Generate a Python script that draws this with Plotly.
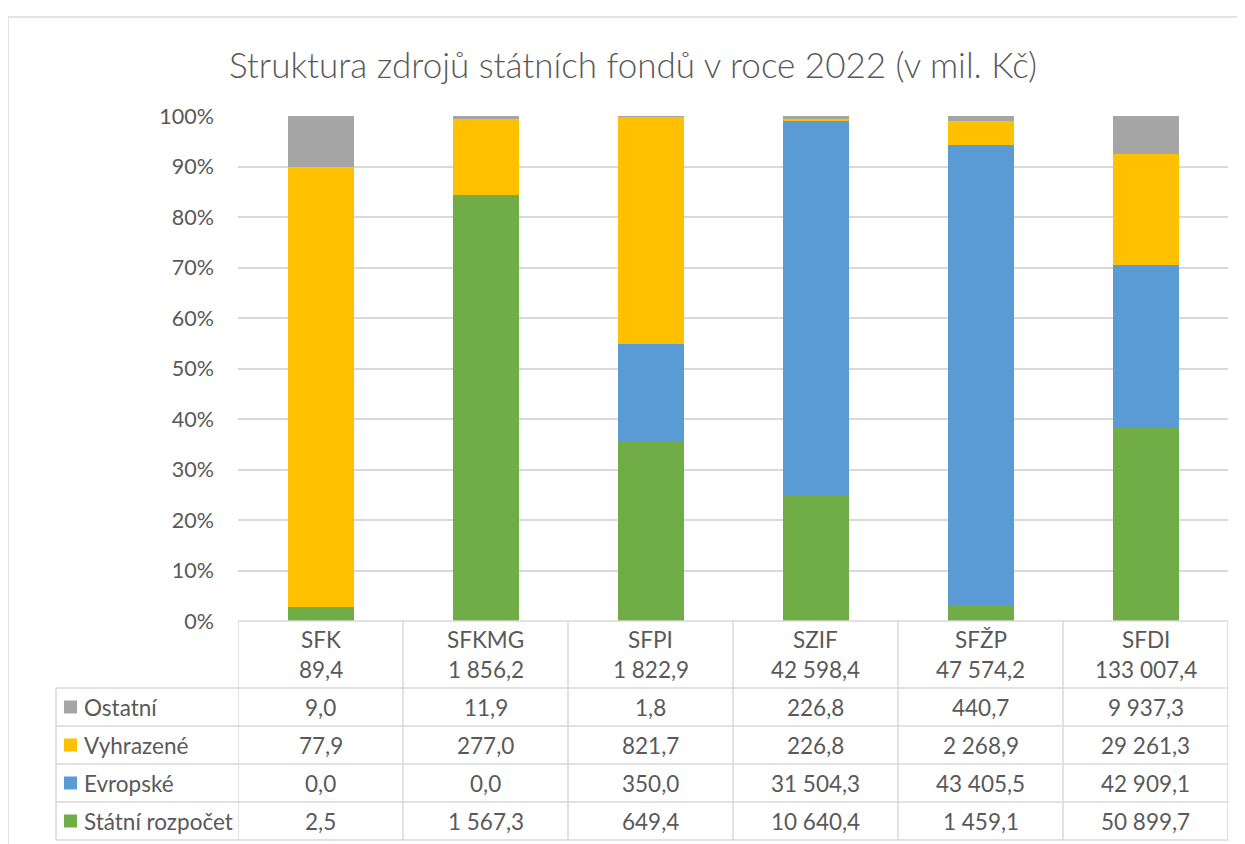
import plotly.graph_objects as go

# ---- data ----
funds = ["SFK", "SFKMG", "SFPI", "SZIF", "SFŽP", "SFDI"]
totals = [89.4, 1856.2, 1822.9, 42598.4, 47574.2, 133007.4]
ostatni = [9.0, 11.9, 1.8, 226.8, 440.7, 9937.3]
vyhrazene = [77.9, 277.0, 821.7, 226.8, 2268.9, 29261.3]
evropske = [0.0, 0.0, 350.0, 31504.3, 43405.5, 42909.1]
statni = [2.5, 1567.3, 649.4, 10640.4, 1459.1, 50899.7]
tick_vals = [0, 10, 20, 30, 40, 50, 60, 70, 80, 90, 100]
tick_text = ["0%", "10%", "20%", "30%", "40%", "50%", "60%", "70%", "80%", "90%", "100%"]

series = [  # bottom to top
    ("Státní rozpočet", statni, "#70AD47"),
    ("Evropské", evropske, "#5B9BD5"),
    ("Vyhrazené", vyhrazene, "#FFC000"),
    ("Ostatní", ostatni, "#A5A5A5"),
]
table_rows = ["Ostatní", "Vyhrazené", "Evropské", "Státní rozpočet"]

# page has an 8px body margin; figure sized so it fits the window exactly
OFF = 8
W, H = 1245 - OFF, 844 - OFF
# plot area in page pixels
PL, PR, PT, PB = 238, 1228, 116, 621
FONT = "Lato, Calibri, Carlito, sans-serif"
TXT = "#595959"
GRID = "#D9D9D9"


def cz(v):
    return f"{v:,.1f}".replace(",", " ").replace(".", ",")


def py(p):  # page pixel y -> paper y
    return (PB - p) / (PB - PT)


def px(p):  # page pixel x -> paper x
    return (p - PL) / (PR - PL)


fig = go.Figure()
for name, vals, col in series:
    fig.add_trace(go.Bar(x=funds, y=vals, name=name, marker_color=col,
                         marker_line_width=0, width=0.4))

shapes = []
annotations = []

# outer chart frame
shapes.append(dict(type="rect", xref="paper", yref="paper",
                   x0=px(8), x1=px(1270), y0=py(870), y1=py(17),
                   line=dict(color=GRID, width=1.5), layer="below"))

# table geometry
row_lines = [688, 726, 764, 802, 840]
shapes.append(dict(type="line", xref="paper", yref="paper",
                   x0=0, x1=1, y0=py(PB), y1=py(PB), line=dict(color=GRID, width=1.5)))
for r in row_lines:
    shapes.append(dict(type="line", xref="paper", yref="paper",
                       x0=px(56), x1=1, y0=py(r), y1=py(r), line=dict(color=GRID, width=1.5)))
for i in range(len(funds) + 1):
    shapes.append(dict(type="line", xref="x", yref="paper",
                       x0=i - 0.5, x1=i - 0.5, y0=py(PB), y1=py(840),
                       line=dict(color=GRID, width=1.5)))
shapes.append(dict(type="line", xref="paper", yref="paper",
                   x0=px(56), x1=px(56), y0=py(688), y1=py(840),
                   line=dict(color=GRID, width=1.5)))

cell_font = dict(size=22.5, color=TXT, family=FONT)

# header cells
for i, f in enumerate(funds):
    annotations.append(dict(x=i, y=py(639), xref="x", yref="paper", text=f,
                            xanchor="center", yanchor="middle",
                            showarrow=False, font=cell_font))
    annotations.append(dict(x=i, y=py(669), xref="x", yref="paper", text=cz(totals[i]),
                            xanchor="center", yanchor="middle",
                            showarrow=False, font=cell_font))

data_by_name = {n: (v, c) for n, v, c in series}
for k, rname in enumerate(table_rows):
    vals, col = data_by_name[rname]
    cy = (row_lines[k] + row_lines[k + 1]) / 2
    shapes.append(dict(type="rect", xref="paper", yref="paper",
                       x0=px(64), x1=px(77), y0=py(cy + 6.5), y1=py(cy - 6.5),
                       fillcolor=col, line=dict(width=0)))
    annotations.append(dict(x=px(82), y=py(cy), xref="paper", yref="paper",
                            text=rname, xanchor="left", yanchor="middle", showarrow=False,
                            font=cell_font))
    for i, v in enumerate(vals):
        annotations.append(dict(x=i, y=py(cy), xref="x", yref="paper", text=cz(v),
                                xanchor="center", yanchor="middle",
                                showarrow=False, font=cell_font))

fig.update_layout(
    width=W, height=H, autosize=False,
    margin=dict(l=PL - OFF, r=W - (PR - OFF), t=PT - OFF, b=H - (PB - OFF), pad=0),
    barmode="stack", barnorm="percent",
    paper_bgcolor="white", plot_bgcolor="white",
    showlegend=False,
    title=dict(text="Struktura zdrojů státních fondů v roce 2022 (v mil. Kč)",
               x=(633 - OFF) / W, xanchor="center", xref="container",
               y=1 - (66 - OFF) / H, yanchor="middle", yref="container",
               font=dict(size=35, color=TXT, family=FONT, weight=300)),
    xaxis=dict(range=[-0.5, 5.5], showticklabels=False, showgrid=False,
               zeroline=False, showline=False, ticks=""),
    yaxis=dict(range=[0, 100], tickmode="array", tickvals=tick_vals, ticktext=tick_text,
               showgrid=True, gridcolor=GRID, gridwidth=1.5, zeroline=False,
               showline=False, ticks="", ticklabelstandoff=23,
               tickfont=dict(size=21.5, color=TXT, family=FONT)),
    shapes=shapes, annotations=annotations,
    font=dict(family=FONT, color=TXT),
)

fig.write_html("out.html")
